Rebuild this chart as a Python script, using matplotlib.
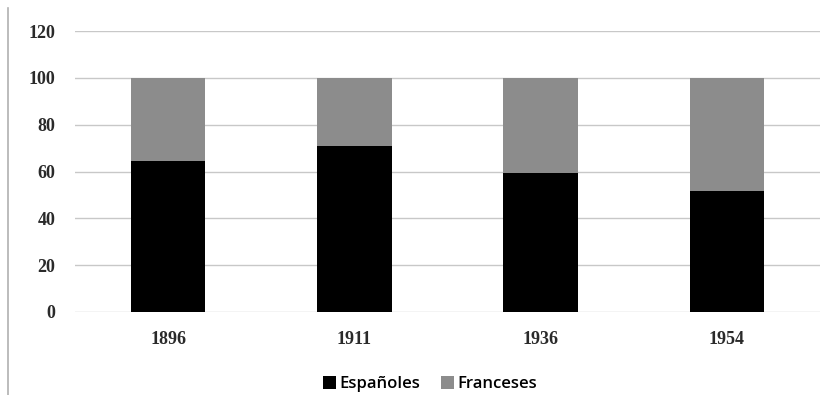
import matplotlib
matplotlib.use("Agg")
from matplotlib import pyplot as plt
import numpy as np

years = ["1896", "1911", "1936", "1954"]
espanoles = [64.5, 71, 59.5, 51.5]
franceses = [35.5, 29, 40.5, 48.5]
y_ticks = [0, 20, 40, 60, 80, 100, 120]

fig = plt.figure(figsize=(8.35, 3.95), dpi=100)
ax = fig.add_axes([75/835, 83/395, 745/835, 281/395])

x = np.arange(len(years))
ax.bar(x, espanoles, width=0.4, color="black", label="Españoles", zorder=3)
ax.bar(x, franceses, width=0.4, bottom=espanoles, color="#8c8c8c", label="Franceses", zorder=3)

ax.set_xlim(-0.5, len(years) - 0.5)
ax.set_ylim(0, 120)
ax.set_yticks(y_ticks)
ax.set_xticks(x)
ax.set_xticklabels(years)
ax.yaxis.grid(True, color="#c8c8c8", linewidth=1, zorder=0)
for s in ax.spines.values():
    s.set_visible(False)
ax.tick_params(length=0, labelsize=13)
for lab in ax.get_xticklabels() + ax.get_yticklabels():
    lab.set_family("Liberation Serif")
    lab.set_weight("bold")
    lab.set_color("#2a2a2a")
ax.tick_params(axis="x", pad=14)
ax.tick_params(axis="y", pad=14)

# frame line at the left
fig.add_artist(plt.Line2D([8/835, 8/835], [0, 0.98], color="#b0b0b0", linewidth=1.2))

ax.legend(loc="center", bbox_to_anchor=(430/835, 11/395), bbox_transform=fig.transFigure,
          ncol=2, frameon=False, prop={"family": "Open Sans", "size": 12, "weight": "semibold"},
          handlelength=0.8, handleheight=0.8, handletextpad=0.2, columnspacing=1.2)

fig.savefig("out.png", dpi=100)
